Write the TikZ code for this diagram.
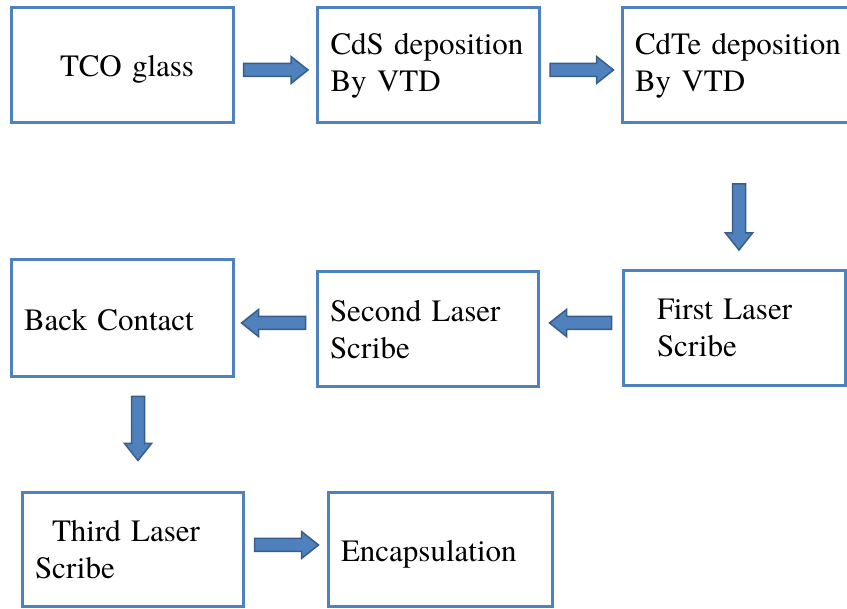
\documentclass[tikz,border=0pt]{standalone}
\usepackage{fontspec}
\setmainfont{texgyretermes}[Extension=.otf, UprightFont=*-regular, BoldFont=*-bold, WordSpace=0.8]
\usepackage{xcolor}
\usepackage{tikz}
\usetikzlibrary{calc}

\definecolor{boxline}{RGB}{79,129,189}
\definecolor{arrfill}{RGB}{79,129,189}
\definecolor{arrline}{RGB}{56,93,138}

\begin{document}
\begin{tikzpicture}[
  x=1pt, y=-1pt,
  every node/.style={font=\fontsize{31}{37}\selectfont},
  stage/.style={rectangle, draw=boxline, line width=3pt, minimum width=222pt, minimum height=115pt,
    inner xsep=13pt, text width=196pt, align=left},
  arr/.style={draw=arrline, fill=arrfill, line width=1.5pt, line join=miter,
    to path={
      ($(\tikztotarget)!17pt!(\tikztostart)$) coordinate (bb)
      ($(\tikztostart)!6.5pt!90:(\tikztotarget)$)
      -- ($(bb)!6.5pt!-90:(\tikztostart)$)
      -- ($(bb)!13.5pt!-90:(\tikztostart)$)
      -- (\tikztotarget)
      -- ($(bb)!13.5pt!90:(\tikztostart)$)
      -- ($(bb)!6.5pt!90:(\tikztostart)$)
      -- ($(\tikztostart)!6.5pt!-90:(\tikztotarget)$) -- cycle}},
]
\useasboundingbox (0,0) rectangle (847,609);
\clip (0,0) rectangle (847,609);

\node[stage] (tco) at (122,65.5) {\rule{0pt}{29pt}\hspace*{36pt}TCO glass};
\node[stage] (cds) at (428.5,65.5) {CdS deposition\\By VTD};
\node[stage, minimum width=240pt, text width=214pt] (cdte) at (742,65.5) {CdTe deposition\\By VTD};

\node[stage, minimum height=117pt] (back) at (122,318.5) {\rule{0pt}{25pt}Back Contact};
\node[stage, minimum width=221pt, text width=195pt] (second) at (427.5,329.5) {Second Laser\\Scribe};
\node[stage] (first) at (734,328) {\hspace*{21pt}First Laser\\\hspace*{21pt}Scribe};

\node[stage, minimum width=221pt, text width=195pt, minimum height=114pt] (third) at (132.5,550) {\hspace*{17pt}Third Laser\\Scribe};
\node[stage, minimum width=224pt, text width=198pt, minimum height=114pt] (encap) at (440,550) {\rule{0pt}{29pt}Encapsulation};

\draw[arr] ($(tco.east)+(9,4.5)$) to ($(cds.west)+(-8,4.5)$);
\draw[arr] ($(cds.east)+(9,4.5)$) to ($(cdte.west)+(-7,4.5)$);
\draw[arr] ($(first.north)+(5,-85)$) to ($(first.north)+(5,-19)$);
\draw[arr] ($(first.west)+(-10,-5)$) to ($(second.east)+(10,-6.5)$);
\draw[arr] ($(second.west)+(-10,-6.5)$) to ($(back.east)+(7,4.5)$);
\draw[arr] ($(back.south)+(16,18)$) to ($(third.north)+(5.5,-31)$);
\draw[arr] ($(third.east)+(10,-5)$) to ($(encap.west)+(-8,-5)$);

\end{tikzpicture}
\end{document}
